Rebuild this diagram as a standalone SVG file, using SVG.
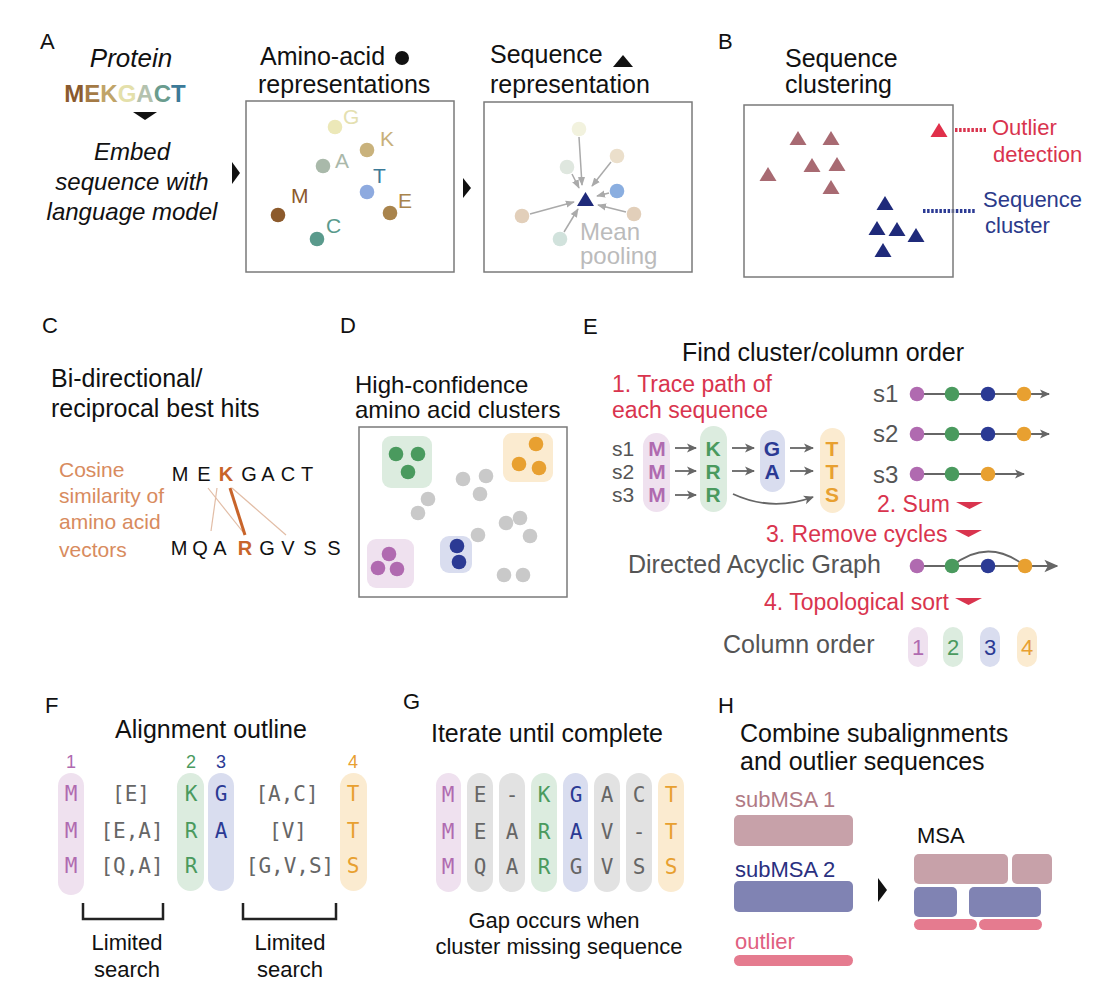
<svg xmlns="http://www.w3.org/2000/svg" width="1100" height="996" viewBox="0 0 1100 996">
<style>
text{font-family:"Liberation Sans",Arial,Helvetica,sans-serif;fill:#111}
text.pl{font-size:22px}
.t{font-size:25px}
.it{font-size:24px;font-style:italic}
.red{font-size:23px;fill:#d9344e}
.gr{fill:#555}
.mono{font-family:"DejaVu Sans Mono",monospace;font-size:21px}
.box{fill:none;stroke:#7a7a7a;stroke-width:1.5}
.pp{fill:#efe1ef}.pg{fill:#dcecdf}.pb{fill:#d9ddef}.po{fill:#fbebd0}.px{fill:#e2e2e2}
.cp{fill:#b06ab0}.cg{fill:#4a9a5e}.cb{fill:#2b3a94}.co{fill:#e8a030}.cx{fill:#666}
.aa{stroke:#aaa;stroke-width:1.5;fill:none}
.ea{stroke:#666;stroke-width:1.8;fill:none}
</style>
<defs>
<marker id="ha" viewBox="0 0 10 10" refX="9" refY="5" markerWidth="9" markerHeight="9" markerUnits="userSpaceOnUse" orient="auto"><path d="M0,1 L10,5 L0,9 z" fill="#aaa"/></marker>
<marker id="he" viewBox="0 0 10 10" refX="9" refY="5" markerWidth="10" markerHeight="10" markerUnits="userSpaceOnUse" orient="auto"><path d="M0,0.5 L10,5 L0,9.5 L2.5,5 z" fill="#666"/></marker>
<marker id="hd" viewBox="0 0 10 10" refX="9" refY="5" markerWidth="14" markerHeight="14" markerUnits="userSpaceOnUse" orient="auto"><path d="M0,0.5 L10,5 L0,9.5 L2.5,5 z" fill="#666"/></marker>
<path id="tri" d="M-8.5,7 L8.5,7 L0,-7 Z"/>
<path id="dn" d="M-13.5,0 L13.5,0 L0,7 Z" fill="#d9344e"/>
</defs>
<rect width="1100" height="996" fill="#fff"/>

<g id="connectors">
  <polygon points="133,112 157,112 145,120" fill="#111"/>
  <polygon points="232,162 232,184 240,173" fill="#111"/>
  <polygon points="463,178 463,198 471,188" fill="#111"/>
  <polygon points="878,878 878,902 887,890" fill="#111"/>
  <line class="aa" x1="579" y1="137" x2="582" y2="185" marker-end="url(#ha)"/>
  <line class="aa" x1="611" y1="162" x2="592" y2="186" marker-end="url(#ha)"/>
  <line class="aa" x1="572" y1="174" x2="579" y2="188" marker-end="url(#ha)"/>
  <line class="aa" x1="609" y1="193" x2="597" y2="196" marker-end="url(#ha)"/>
  <line class="aa" x1="530" y1="214" x2="574" y2="202" marker-end="url(#ha)"/>
  <line class="aa" x1="626" y1="212" x2="598" y2="205" marker-end="url(#ha)"/>
  <line class="aa" x1="564" y1="232" x2="578" y2="209" marker-end="url(#ha)"/>
  <line x1="208" y1="488" x2="243" y2="532" stroke="#e2bda6" stroke-width="1.2"/>
  <line x1="217" y1="488" x2="211" y2="531" stroke="#e2bda6" stroke-width="1.2"/>
  <line x1="232" y1="488" x2="286" y2="535" stroke="#e2bda6" stroke-width="1.2"/>
  <line x1="230" y1="488" x2="245" y2="535" stroke="#c8642a" stroke-width="3"/>
  <line class="ea" x1="675" y1="448" x2="696" y2="448" marker-end="url(#he)"/>
  <line class="ea" x1="675" y1="471" x2="696" y2="471" marker-end="url(#he)"/>
  <line class="ea" x1="675" y1="495" x2="696" y2="495" marker-end="url(#he)"/>
  <line class="ea" x1="732" y1="448" x2="754" y2="448" marker-end="url(#he)"/>
  <line class="ea" x1="732" y1="471" x2="754" y2="471" marker-end="url(#he)"/>
  <line class="ea" x1="790" y1="448" x2="813" y2="448" marker-end="url(#he)"/>
  <line class="ea" x1="790" y1="471" x2="813" y2="471" marker-end="url(#he)"/>
  <path class="ea" d="M733,494 Q772,512 813,497" marker-end="url(#he)"/>
  <line class="ea" x1="917" y1="394" x2="1049" y2="394" stroke-width="1.5" marker-end="url(#he)"/>
  <line class="ea" x1="917" y1="434" x2="1049" y2="434" stroke-width="1.5" marker-end="url(#he)"/>
  <line class="ea" x1="917" y1="474" x2="1024" y2="474" stroke-width="1.5" marker-end="url(#he)"/>
  <line class="ea" x1="917" y1="566" x2="1057" y2="566" stroke-width="3" marker-end="url(#hd)"/>
  <path class="ea" d="M952,566 Q988,537 1025,566" stroke-width="1.5"/>
  <line x1="955" y1="130" x2="986" y2="130" stroke="#d9344e" stroke-width="4" stroke-dasharray="2.5,1.6"/>
  <line x1="923" y1="211" x2="976" y2="211" stroke="#2b3a94" stroke-width="4" stroke-dasharray="2.5,1.6"/>
  <path d="M83,903 V919 H163 V903" fill="none" stroke="#222" stroke-width="2.5"/>
  <path d="M243,903 V919 H336 V903" fill="none" stroke="#222" stroke-width="2.5"/>
</g>

<g id="panelA">
  <text class="pl" x="40" y="49">A</text>
  <text x="131" y="67" font-size="26" font-style="italic" text-anchor="middle">Protein</text>
  <text x="125" y="102" font-size="24" font-weight="bold" text-anchor="middle"><tspan fill="#8a5a2e">M</tspan><tspan fill="#a47a45">E</tspan><tspan fill="#c0a468">K</tspan><tspan fill="#e4e0aa">G</tspan><tspan fill="#b4c2ae">A</tspan><tspan fill="#6a9c8e">C</tspan><tspan fill="#3c7a98">T</tspan></text>
  <text class="it" x="132" y="160" text-anchor="middle">Embed</text>
  <text class="it" x="132" y="190" text-anchor="middle">sequence with</text>
  <text class="it" x="132" y="220" text-anchor="middle">language model</text>
</g>

<g id="aa-repr">
  <text class="t" x="260" y="65">Amino-acid</text>
  <circle cx="402" cy="58" r="7" fill="#111"/>
  <text class="t" x="258" y="93">representations</text>
  <rect class="box" x="246" y="101" width="208" height="171"/>
  <g font-size="21">
  <circle cx="335" cy="127" r="7.3" fill="#ece8b8"/><text x="343" y="124" style="fill:#e4e0b0">G</text>
  <circle cx="367" cy="150" r="7.3" fill="#c9b27c"/><text x="380" y="146" style="fill:#c8b07a">K</text>
  <circle cx="323" cy="166" r="7.3" fill="#a9b9aa"/><text x="335" y="168" style="fill:#aab8aa">A</text>
  <circle cx="367" cy="192" r="7.3" fill="#8eaadf"/><text x="373" y="183" style="fill:#3c7a98">T</text>
  <circle cx="278" cy="215" r="7.3" fill="#8c5a2c"/><text x="291" y="203" style="fill:#8c5a2c">M</text>
  <circle cx="390" cy="213" r="7.3" fill="#a9844c"/><text x="398" y="208" style="fill:#a9844c">E</text>
  <circle cx="317" cy="239" r="7.3" fill="#5a9a8c"/><text x="326" y="233" style="fill:#5a9a8c">C</text>
  </g>
</g>

<g id="seq-repr">
  <text class="t" x="490" y="63">Sequence</text>
  <polygon points="613,67 633,67 623,55" fill="#111"/>
  <text class="t" x="490" y="93">representation</text>
  <rect class="box" x="484" y="102" width="208" height="170"/>
  <circle cx="579" cy="129" r="7.3" fill="#f2f2de"/>
  <circle cx="617" cy="156" r="7.3" fill="#ebdfcb"/>
  <circle cx="567" cy="167" r="7.3" fill="#dfe7df"/>
  <circle cx="617" cy="191" r="7.3" fill="#8aaee0"/>
  <circle cx="522" cy="216" r="7.3" fill="#e2cfba"/>
  <circle cx="634" cy="214" r="7.3" fill="#e2cfba"/>
  <circle cx="560" cy="239" r="7.3" fill="#d1e2dc"/>
  <polygon points="577,206 594,206 585.5,192" fill="#1f2a7a"/>
  <text x="580" y="240" font-size="24" style="fill:#bbb">Mean</text>
  <text x="580" y="264" font-size="24" style="fill:#bbb">pooling</text>
</g>

<g id="panelB">
  <text class="pl" x="718" y="49">B</text>
  <text class="t" x="785" y="67">Sequence</text>
  <text class="t" x="785" y="93">clustering</text>
  <rect class="box" x="744" y="105" width="209" height="172"/>
  <g fill="#a86a72">
    <use href="#tri" x="798" y="138"/><use href="#tri" x="831" y="138"/>
    <use href="#tri" x="812" y="165"/><use href="#tri" x="837" y="164"/>
    <use href="#tri" x="768" y="174"/><use href="#tri" x="831" y="187"/>
  </g>
  <use href="#tri" x="939" y="130" fill="#e0304a"/>
  <g fill="#1f2a7a">
    <use href="#tri" x="885" y="203"/><use href="#tri" x="877" y="228"/>
    <use href="#tri" x="897" y="229"/><use href="#tri" x="916" y="235"/>
    <use href="#tri" x="883" y="250"/>
  </g>
  <text x="992" y="135" font-size="22" style="fill:#d9344e">Outlier</text>
  <text x="993" y="162" font-size="22" style="fill:#d9344e">detection</text>
  <text x="983" y="207" font-size="22" style="fill:#2b3a8a">Sequence</text>
  <text x="985" y="233" font-size="22" style="fill:#2b3a8a">cluster</text>
</g>

<g id="panelC">
  <text class="pl" x="42" y="333">C</text>
  <text class="t" x="51" y="387">Bi-directional/</text>
  <text class="t" x="51" y="417">reciprocal best hits</text>
  <g font-size="21">
    <text x="59" y="477" style="fill:#d88b5e">Cosine</text>
    <text x="59" y="503" style="fill:#d88b5e">similarity of</text>
    <text x="59" y="529" style="fill:#d88b5e">amino acid</text>
    <text x="59" y="557" style="fill:#d88b5e">vectors</text>
  </g>
  <g font-size="20" text-anchor="middle">
    <text x="180" y="481">M</text><text x="204" y="481">E</text>
    <text x="226" y="481" font-weight="bold" style="fill:#c8642a">K</text>
    <text x="249" y="481">G</text><text x="268" y="481">A</text><text x="288" y="481">C</text><text x="307" y="481">T</text>
    <text x="179" y="555">M</text><text x="200" y="555">Q</text><text x="220" y="555">A</text>
    <text x="245" y="555" font-weight="bold" style="fill:#c8642a">R</text>
    <text x="267" y="555">G</text><text x="288" y="555">V</text><text x="310" y="555">S</text><text x="334" y="555">S</text>
  </g>
</g>

<g id="panelD">
  <text class="pl" x="340" y="333">D</text>
  <text x="355" y="393" font-size="24">High-confidence</text>
  <text x="355" y="418" font-size="24">amino acid clusters</text>
  <rect class="box" x="359" y="427" width="208" height="170"/>
  <rect x="382" y="436" width="50" height="52" rx="9" class="pg"/>
  <rect x="503" y="433" width="50" height="49" rx="9" class="po"/>
  <rect x="367" y="539" width="47" height="49" rx="9" class="pp"/>
  <rect x="440" y="536" width="32" height="37" rx="9" class="pb"/>
  <g fill="#4a9a5e"><circle cx="396" cy="454" r="7.3"/><circle cx="418" cy="454" r="7.3"/><circle cx="408" cy="472" r="7.3"/></g>
  <g fill="#e8a030"><circle cx="536" cy="444" r="7.3"/><circle cx="519" cy="464" r="7.3"/><circle cx="539" cy="468" r="7.3"/></g>
  <g fill="#b06ab0"><circle cx="389" cy="554" r="7.3"/><circle cx="378" cy="568" r="7.3"/><circle cx="397" cy="569" r="7.3"/></g>
  <g fill="#2b3a94"><circle cx="457" cy="546" r="7.3"/><circle cx="459" cy="562" r="7.3"/></g>
  <g fill="#c9c9c9">
    <circle cx="463" cy="479" r="7.3"/><circle cx="486" cy="476" r="7.3"/><circle cx="480" cy="494" r="7.3"/>
    <circle cx="428" cy="499" r="7.3"/><circle cx="418" cy="513" r="7.3"/>
    <circle cx="506" cy="523" r="7.3"/><circle cx="520" cy="518" r="7.3"/><circle cx="530" cy="536" r="7.3"/>
    <circle cx="478" cy="535" r="7.3"/>
    <circle cx="504" cy="575" r="7.3"/><circle cx="523" cy="575" r="7.3"/>
  </g>
</g>

<g id="panelE">
  <text class="pl" x="583" y="334">E</text>
  <text class="t" x="823" y="361" text-anchor="middle">Find cluster/column order</text>
  <text class="red" x="612" y="392">1. Trace path of</text>
  <text class="red" x="612" y="418">each sequence</text>
  <g font-size="21">
    <text x="612" y="456" class="gr">s1</text><text x="612" y="479" class="gr">s2</text><text x="612" y="502" class="gr">s3</text>
  </g>
  <rect x="643" y="433" width="27" height="79" rx="13.5" class="pp"/>
  <rect x="700" y="426" width="27" height="86" rx="13.5" class="pg"/>
  <rect x="760" y="430" width="25" height="62" rx="12.5" class="pb"/>
  <rect x="820" y="428" width="25" height="85" rx="12.5" class="po"/>
  <g font-size="21" font-weight="bold" text-anchor="middle">
    <text x="657" y="456" class="cp">M</text><text x="657" y="479" class="cp">M</text><text x="657" y="502" class="cp">M</text>
    <text x="713" y="456" class="cg">K</text><text x="713" y="479" class="cg">R</text><text x="713" y="502" class="cg">R</text>
    <text x="772" y="456" class="cb">G</text><text x="772" y="479" class="cb">A</text>
    <text x="832" y="456" class="co">T</text><text x="832" y="479" class="co">T</text><text x="832" y="502" class="co">S</text>
  </g>
  <g font-size="24">
    <text x="873" y="402" class="gr">s1</text><text x="873" y="442" class="gr">s2</text><text x="873" y="483" class="gr">s3</text>
  </g>
  <circle cx="917" cy="394" r="7.3" fill="#b06ab0"/><circle cx="952" cy="394" r="7.3" fill="#4a9a5e"/><circle cx="988" cy="394" r="7.3" fill="#2b3a94"/><circle cx="1024" cy="394" r="7.3" fill="#e8a030"/>
  <circle cx="917" cy="434" r="7.3" fill="#b06ab0"/><circle cx="952" cy="434" r="7.3" fill="#4a9a5e"/><circle cx="988" cy="434" r="7.3" fill="#2b3a94"/><circle cx="1024" cy="434" r="7.3" fill="#e8a030"/>
  <circle cx="917" cy="474" r="7.3" fill="#b06ab0"/><circle cx="952" cy="474" r="7.3" fill="#4a9a5e"/><circle cx="988" cy="474" r="7.3" fill="#e8a030"/>
  <text class="red" x="877" y="512">2. Sum</text><use href="#dn" x="969.5" y="502"/>
  <text class="red" x="766" y="542">3. Remove cycles</text><use href="#dn" x="968.5" y="530"/>
  <text class="t gr" x="628" y="573">Directed Acyclic Graph</text>
  <circle cx="917" cy="566" r="7.3" fill="#b06ab0"/><circle cx="952" cy="566" r="7.3" fill="#4a9a5e"/><circle cx="988" cy="566" r="7.3" fill="#2b3a94"/><circle cx="1025" cy="566" r="7.3" fill="#e8a030"/>
  <text class="red" x="764" y="610">4. Topological sort</text><use href="#dn" x="968.5" y="598"/>
  <text class="t gr" x="723" y="653">Column order</text>
  <rect x="908" y="627" width="20" height="40" rx="10" class="pp"/>
  <rect x="943" y="627" width="20" height="40" rx="10" class="pg"/>
  <rect x="980" y="627" width="20" height="40" rx="10" class="pb"/>
  <rect x="1017" y="627" width="20" height="40" rx="10" class="po"/>
  <g font-size="22" text-anchor="middle">
    <text x="918" y="655" class="cp">1</text><text x="953" y="655" class="cg">2</text><text x="990" y="655" class="cb">3</text><text x="1027" y="655" class="co">4</text>
  </g>
</g>

<g id="panelF">
  <text class="pl" x="45" y="713">F</text>
  <text class="t" x="211" y="738" text-anchor="middle">Alignment outline</text>
  <g font-size="18" text-anchor="middle">
    <text x="71" y="768" class="cp">1</text><text x="191" y="768" class="cg">2</text><text x="221" y="768" class="cb">3</text><text x="353" y="768" class="co">4</text>
  </g>
  <rect x="58" y="773" width="26" height="122" rx="13" class="pp"/>
  <rect x="177" y="773" width="27" height="118" rx="13.5" class="pg"/>
  <rect x="208" y="773" width="26" height="118" rx="13" class="pb"/>
  <rect x="340" y="773" width="27" height="118" rx="13.5" class="po"/>
  <g text-anchor="middle">
    <text x="71" y="801" class="mono cp">M</text><text x="71" y="838" class="mono cp">M</text><text x="71" y="873" class="mono cp">M</text>
    <text x="131" y="801" class="mono cx">[E]</text><text x="132" y="838" class="mono cx">[E,A]</text><text x="132" y="873" class="mono cx">[Q,A]</text>
    <text x="191" y="801" class="mono cg">K</text><text x="191" y="838" class="mono cg">R</text><text x="191" y="873" class="mono cg">R</text>
    <text x="221" y="801" class="mono cb">G</text><text x="221" y="838" class="mono cb">A</text>
    <text x="287" y="801" class="mono cx">[A,C]</text><text x="288" y="838" class="mono cx">[V]</text><text x="290" y="873" class="mono cx">[G,V,S]</text>
    <text x="353" y="801" class="mono co">T</text><text x="353" y="838" class="mono co">T</text><text x="353" y="873" class="mono co">S</text>
  </g>
  <g font-size="22" text-anchor="middle">
    <text x="127" y="950">Limited</text><text x="127" y="977">search</text>
    <text x="290" y="950">Limited</text><text x="290" y="977">search</text>
  </g>
</g>

<g id="panelG">
  <text class="pl" x="403" y="709">G</text>
  <text class="t" x="547" y="742" text-anchor="middle">Iterate until complete</text>
  <rect x="436" y="773" width="25" height="119" rx="12.5" class="pp"/>
  <rect x="467" y="773" width="26" height="119" rx="13" class="px"/>
  <rect x="499" y="773" width="26" height="119" rx="13" class="px"/>
  <rect x="531" y="773" width="26" height="119" rx="13" class="pg"/>
  <rect x="563" y="773" width="25" height="119" rx="12.5" class="pb"/>
  <rect x="594" y="773" width="26" height="119" rx="13" class="px"/>
  <rect x="626" y="773" width="26" height="119" rx="13" class="px"/>
  <rect x="658" y="773" width="26" height="119" rx="13" class="po"/>
  <g text-anchor="middle">
    <text x="448" y="802" class="mono cp">M</text><text x="480" y="802" class="mono cx">E</text><text x="512" y="802" class="mono cx">-</text><text x="544" y="802" class="mono cg">K</text><text x="576" y="802" class="mono cb">G</text><text x="607" y="802" class="mono cx">A</text><text x="639" y="802" class="mono cx">C</text><text x="671" y="802" class="mono co">T</text>
    <text x="448" y="839" class="mono cp">M</text><text x="480" y="839" class="mono cx">E</text><text x="512" y="839" class="mono cx">A</text><text x="544" y="839" class="mono cg">R</text><text x="576" y="839" class="mono cb">A</text><text x="607" y="839" class="mono cx">V</text><text x="639" y="839" class="mono cx">-</text><text x="671" y="839" class="mono co">T</text>
    <text x="448" y="874" class="mono cp">M</text><text x="480" y="874" class="mono cx">Q</text><text x="512" y="874" class="mono cx">A</text><text x="544" y="874" class="mono cg">R</text><text x="576" y="874" class="mono cx">G</text><text x="607" y="874" class="mono cx">V</text><text x="639" y="874" class="mono cx">S</text><text x="671" y="874" class="mono co">S</text>
  </g>
  <text x="554" y="928" font-size="22" text-anchor="middle">Gap occurs when</text>
  <text x="559" y="954" font-size="22" text-anchor="middle">cluster missing sequence</text>
</g>

<g id="panelH">
  <text class="pl" x="718" y="713">H</text>
  <text class="t" x="740" y="742">Combine subalignments</text>
  <text class="t" x="740" y="770">and outlier sequences</text>
  <text x="735" y="807" font-size="22" style="fill:#b07a85">subMSA 1</text>
  <rect x="734" y="815" width="119" height="31" rx="5" fill="#c7a1a9"/>
  <text x="735" y="877" font-size="22" style="fill:#2a3080">subMSA 2</text>
  <rect x="734" y="881" width="119" height="31" rx="5" fill="#8083b3"/>
  <text x="735" y="949" font-size="22" style="fill:#e06080">outlier</text>
  <rect x="734" y="955" width="119" height="11" rx="5.5" fill="#e57b8f"/>
  <text x="917" y="843" font-size="22">MSA</text>
  <rect x="914" y="854" width="94" height="30" rx="5" fill="#c7a1a9"/>
  <rect x="1012" y="854" width="40" height="30" rx="5" fill="#c7a1a9"/>
  <rect x="914" y="887" width="43" height="30" rx="5" fill="#8083b3"/>
  <rect x="969" y="887" width="72" height="30" rx="5" fill="#8083b3"/>
  <rect x="914" y="919" width="63" height="11" rx="5.5" fill="#e57b8f"/>
  <rect x="979" y="919" width="63" height="11" rx="5.5" fill="#e57b8f"/>
</g>
</svg>
